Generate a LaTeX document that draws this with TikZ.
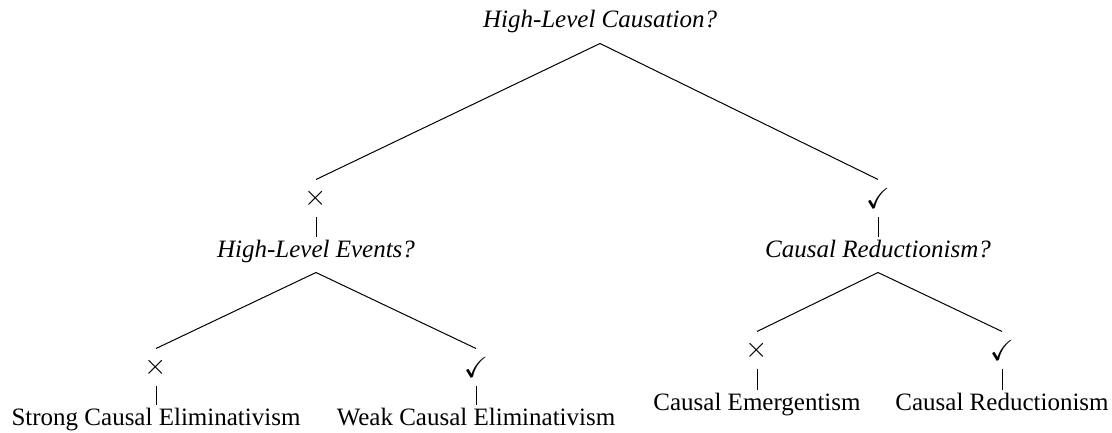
\documentclass[tikz,border=0pt]{standalone}
\usepackage{amssymb}
\usepackage{fontspec}
\setmainfont{Liberation Serif}

\begin{document}
\begin{tikzpicture}[x=0.5pt, y=-0.5pt, line width=0.5pt,
    txt/.style = {anchor=base, inner sep=0pt, text height=10pt, text depth=7.5pt, font=\fontsize{12.5}{15}\selectfont},
    ques/.style = {txt, font=\fontsize{12.5}{15}\selectfont\itshape},
    answer/.style = {inner sep=0pt, minimum height=18pt, font=\fontsize{14.5}{17}\selectfont}]
\useasboundingbox (0,0) rectangle (1112,433);
\node[ques] (hlc) at (600,28) {High-Level Causation?};
\node[answer] (no_1) at (316,198) {$\times$};
\node[answer] (yes_1) at (878,198) {$\checkmark$};
\node[ques] (hle) at (316,257) {High-Level Events?};
\node[ques] (cr) at (878,257) {Causal Reductionism?};
\node[answer] (no_2) at (156,367) {$\times$};
\node[answer] (yes_2) at (476,367) {$\checkmark$};
\node[txt] (sce) at (156,425) {Strong Causal Eliminativism};
\node[txt] (wce) at (476,425) {Weak Causal Eliminativism};
\node[answer] (no_3) at (757,350) {$\times$};
\node[answer] (yes_3) at (1002,350) {$\checkmark$};
\node[txt] (cem) at (757,410) {Causal Emergentism};
\node[txt] (cre) at (1002,410) {Causal Reductionism};

\path (hlc.south) edge (no_1.north)
    (hlc.south) edge (yes_1.north)
    (no_1.south) edge (hle.north)
    (yes_1.south) edge (cr.north)
    (hle.south) edge (no_2.north)
    (hle.south) edge (yes_2.north)
    (no_2.south) edge (sce.north)
    (yes_2.south) edge (wce.north)
    (cr.south) edge (no_3.north)
    (cr.south) edge (yes_3.north)
    (no_3.south) edge (cem.north)
    (yes_3.south) edge (cre.north);
\end{tikzpicture}
\end{document}
